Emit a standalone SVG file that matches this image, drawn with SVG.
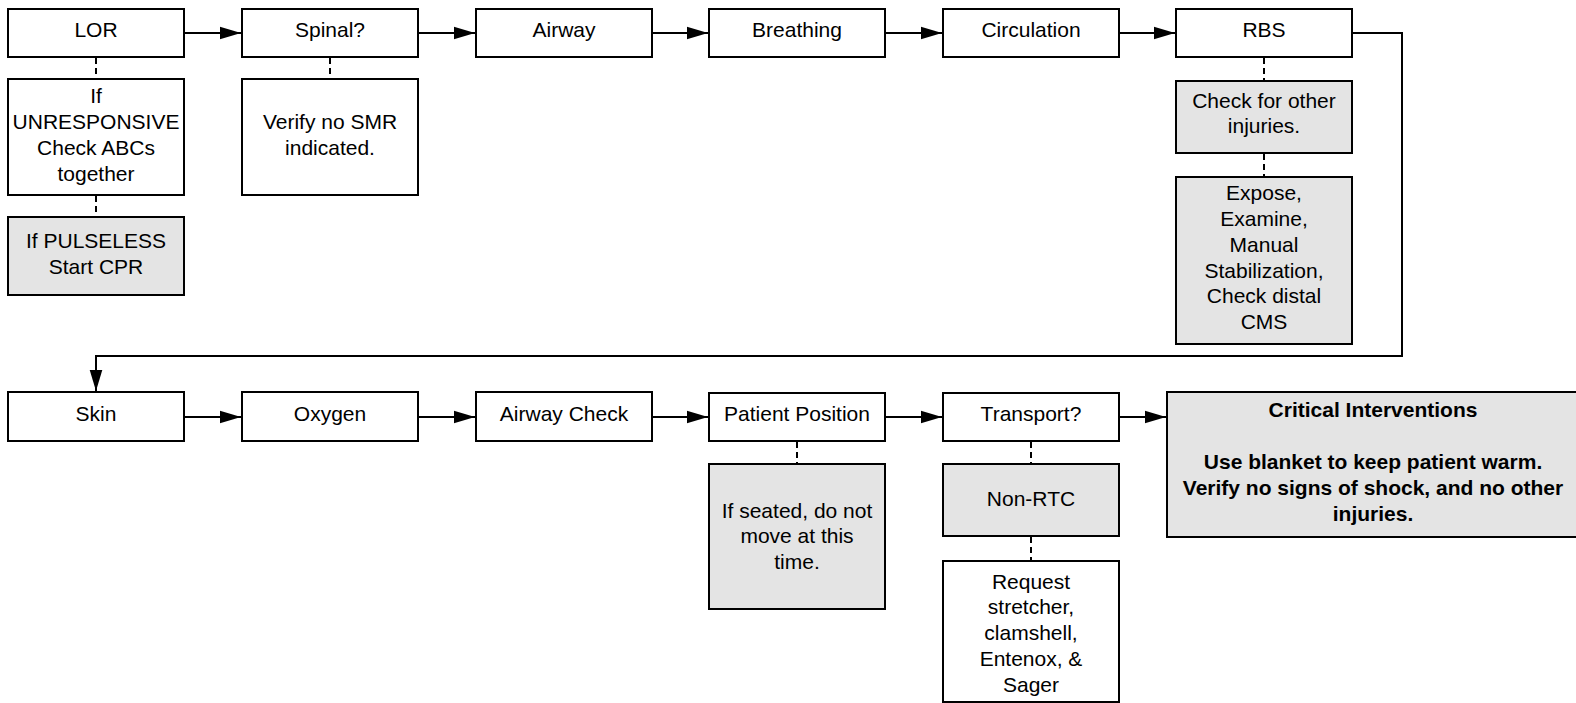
<svg xmlns="http://www.w3.org/2000/svg" width="1576" height="703" viewBox="0 0 1576 703">
<defs>
<style>
.b{fill:#ffffff;stroke:#000;stroke-width:2}
.g{fill:#e4e4e4;stroke:#000;stroke-width:2}
text{font-family:"Liberation Sans",Arial,sans-serif;font-size:21px;fill:#000;text-anchor:middle}
.bold{font-weight:bold}
.c{fill:none;stroke:#000;stroke-width:2}
.d{fill:none;stroke:#000;stroke-width:2;stroke-dasharray:6 4}
</style>
<marker id="ah" markerWidth="22" markerHeight="14" refX="21" refY="7" orient="auto" markerUnits="userSpaceOnUse">
<path d="M0,0.7 L21,7 L0,13.3 Z" fill="#000"/>
</marker>
</defs>
<rect width="1576" height="703" fill="#fff"/>
<g id="connectors">
<line class="c" x1="185" y1="33" x2="241" y2="33" marker-end="url(#ah)"/>
<line class="c" x1="419" y1="33" x2="475" y2="33" marker-end="url(#ah)"/>
<line class="c" x1="652" y1="33" x2="708" y2="33" marker-end="url(#ah)"/>
<line class="c" x1="886" y1="33" x2="942" y2="33" marker-end="url(#ah)"/>
<line class="c" x1="1119" y1="33" x2="1175" y2="33" marker-end="url(#ah)"/>
<polyline class="c" points="1353,33 1402,33 1402,356 96,356 96,391" marker-end="url(#ah)"/>
<line class="c" x1="185" y1="417" x2="241" y2="417" marker-end="url(#ah)"/>
<line class="c" x1="419" y1="417" x2="475" y2="417" marker-end="url(#ah)"/>
<line class="c" x1="652" y1="417" x2="708" y2="417" marker-end="url(#ah)"/>
<line class="c" x1="886" y1="417" x2="942" y2="417" marker-end="url(#ah)"/>
<line class="c" x1="1119" y1="417" x2="1166" y2="417" marker-end="url(#ah)"/>
<line class="d" x1="96" y1="58" x2="96" y2="79"/>
<line class="d" x1="96" y1="196" x2="96" y2="217"/>
<line class="d" x1="330" y1="58" x2="330" y2="79"/>
<line class="d" x1="1264" y1="58" x2="1264" y2="81"/>
<line class="d" x1="1264" y1="154" x2="1264" y2="177"/>
<line class="d" x1="797" y1="442" x2="797" y2="464"/>
<line class="d" x1="1031" y1="442" x2="1031" y2="464"/>
<line class="d" x1="1031" y1="537" x2="1031" y2="561"/>
</g>
<g id="lor"><rect class="b" x="8" y="9" width="176" height="48"/><text x="96" y="37">LOR</text></g>
<g id="spinal"><rect class="b" x="242" y="9" width="176" height="48"/><text x="330" y="37">Spinal?</text></g>
<g id="airway"><rect class="b" x="476" y="9" width="176" height="48"/><text x="564" y="37">Airway</text></g>
<g id="breathing"><rect class="b" x="709" y="9" width="176" height="48"/><text x="797" y="37">Breathing</text></g>
<g id="circulation"><rect class="b" x="943" y="9" width="176" height="48"/><text x="1031" y="37">Circulation</text></g>
<g id="rbs"><rect class="b" x="1176" y="9" width="176" height="48"/><text x="1264" y="37">RBS</text></g>
<g id="unresponsive"><rect class="b" x="8" y="79" width="176" height="116"/>
<text x="96" y="103.3">If</text><text x="96" y="129.1">UNRESPONSIVE</text><text x="96" y="154.9">Check ABCs</text><text x="96" y="180.7">together</text></g>
<g id="pulseless"><rect class="g" x="8" y="217" width="176" height="78"/>
<text x="96" y="248.3">If PULSELESS</text><text x="96" y="274.1">Start CPR</text></g>
<g id="verify-smr"><rect class="b" x="242" y="79" width="176" height="116"/>
<text x="330" y="129.1">Verify no SMR</text><text x="330" y="154.9">indicated.</text></g>
<g id="check-other"><rect class="g" x="1176" y="81" width="176" height="72"/>
<text x="1264" y="107.5">Check for other</text><text x="1264" y="133.3">injuries.</text></g>
<g id="expose"><rect class="g" x="1176" y="177" width="176" height="167"/>
<text x="1264" y="200.2">Expose,</text><text x="1264" y="226">Examine,</text><text x="1264" y="251.8">Manual</text><text x="1264" y="277.6">Stabilization,</text><text x="1264" y="303.4">Check distal</text><text x="1264" y="329.2">CMS</text></g>
<g id="skin"><rect class="b" x="8" y="392" width="176" height="49"/><text x="96" y="421">Skin</text></g>
<g id="oxygen"><rect class="b" x="242" y="392" width="176" height="49"/><text x="330" y="421">Oxygen</text></g>
<g id="airway-check"><rect class="b" x="476" y="392" width="176" height="49"/><text x="564" y="421">Airway Check</text></g>
<g id="patient-position"><rect class="b" x="709" y="393" width="176" height="48"/><text x="797" y="421">Patient Position</text></g>
<g id="transport"><rect class="b" x="943" y="393" width="176" height="48"/><text x="1031" y="421">Transport?</text></g>
<g id="seated"><rect class="g" x="709" y="464" width="176" height="145"/>
<text x="797" y="517.5">If seated, do not</text><text x="797" y="543.3">move at this</text><text x="797" y="569.1">time.</text></g>
<g id="non-rtc"><rect class="g" x="943" y="464" width="176" height="72"/><text x="1031" y="505.8">Non-RTC</text></g>
<g id="request"><rect class="b" x="943" y="561" width="176" height="141"/>
<text x="1031" y="588.5">Request</text><text x="1031" y="614.3">stretcher,</text><text x="1031" y="640.1">clamshell,</text><text x="1031" y="665.9">Entenox, &amp;</text><text x="1031" y="691.7">Sager</text></g>
<g id="critical"><rect class="g" x="1167" y="392" width="413" height="145"/>
<text class="bold" x="1373" y="416.5">Critical Interventions</text>
<text class="bold" x="1373" y="469">Use blanket to keep patient warm.</text>
<text class="bold" x="1373" y="494.8">Verify no signs of shock, and no other</text>
<text class="bold" x="1373" y="520.6">injuries.</text></g>
</svg>
